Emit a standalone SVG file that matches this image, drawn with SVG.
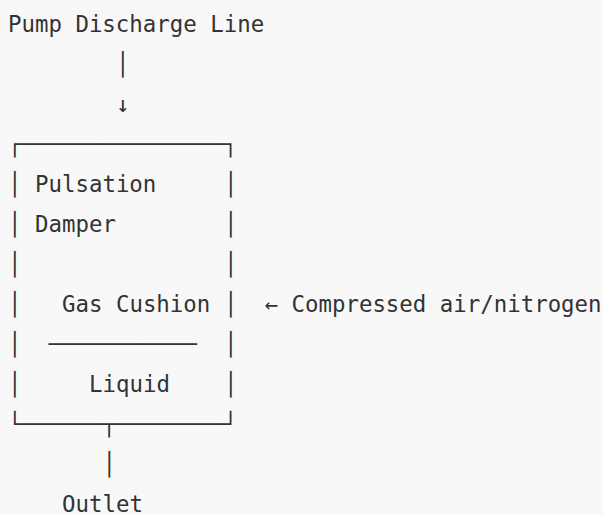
<svg xmlns="http://www.w3.org/2000/svg" width="603" height="515" viewBox="0 0 603 515">
  <style>
    text { font-family: "DejaVu Sans Mono", "Liberation Mono", monospace; font-size: 22.4px; fill: #333333; white-space: pre; }
  </style>
  <rect width="603" height="515" fill="#f8f8f8"/>

  <!-- grid: column x = 8 + 13.5*col, baseline y = 31.7 + 40*row -->
  <g id="pump-discharge-line">
    <text x="8" y="31.7">Pump Discharge Line</text>
  </g>

  <g id="connectors">
    <text x="116" y="71.7">│</text>
    <text x="116" y="111.7">↓</text>
    <text x="264.5" y="311.7">←</text>
    <text x="102.5" y="471.7">│</text>
  </g>

  <g id="pulsation-damper">
    <text x="8" y="151.7">┌───────────────┐</text>
    <text x="8" y="191.7">│</text><text x="35" y="191.7">Pulsation</text><text x="224" y="191.7">│</text>
    <text x="8" y="231.7">│</text><text x="35" y="231.7">Damper</text><text x="224" y="231.7">│</text>
    <text x="8" y="271.7">│</text><text x="224" y="271.7">│</text>
    <text x="8" y="311.7">│</text><text x="62" y="311.7">Gas Cushion</text><text x="224" y="311.7">│</text>
    <text x="8" y="351.7">│</text><text x="48.5" y="351.7">───────────</text><text x="224" y="351.7">│</text>
    <text x="8" y="391.7">│</text><text x="89" y="391.7">Liquid</text><text x="224" y="391.7">│</text>
    <text x="8" y="431.7">└──────┬────────┘</text>
  </g>

  <g id="gas-supply">
    <text x="291.5" y="311.7">Compressed air/nitrogen</text>
  </g>

  <g id="outlet">
    <text x="62" y="511.7">Outlet</text>
  </g>
</svg>
